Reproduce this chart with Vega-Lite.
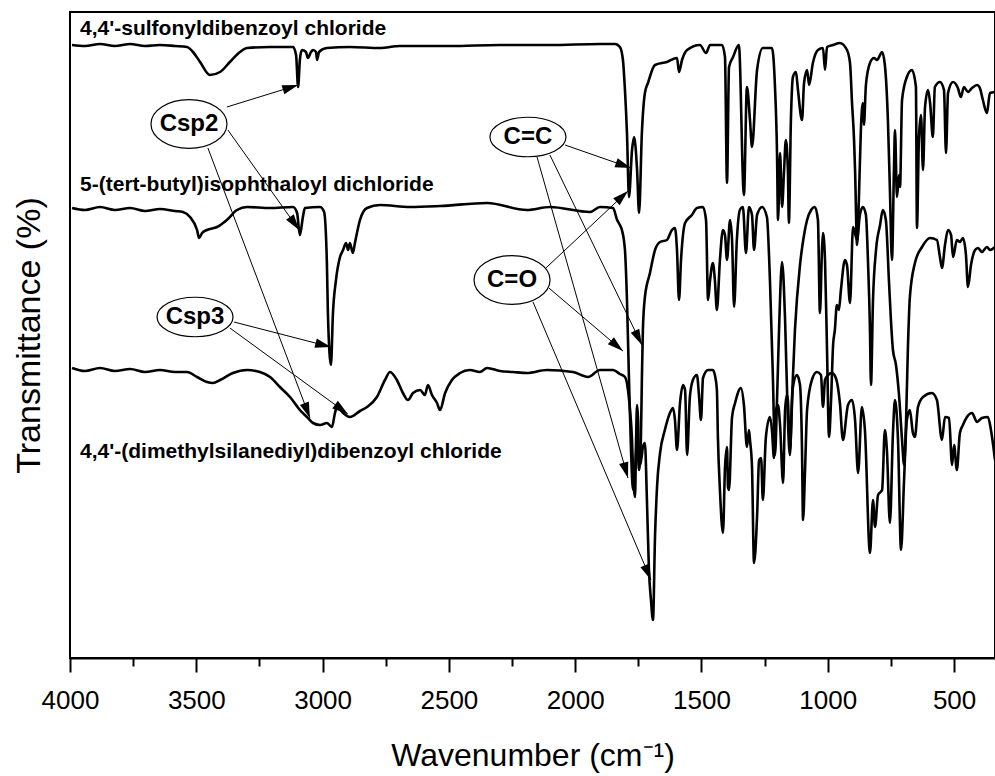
{
  "$schema": "https://vega.github.io/schema/vega-lite/v6.json",
  "width": 925,
  "height": 646,
  "autosize": {"type": "none"},
  "padding": {"left": 70, "top": 12, "right": 0, "bottom": 118},
  "background": "white",
  "config": {
    "view": {"stroke": "black", "strokeWidth": 2},
    "font": "Liberation Sans"
  },
  "datasets": {
    "spectra": [
      {"sample":"SDBC","wn":3992,"T":613},{"sample":"SDBC","wn":3941,"T":612},{"sample":"SDBC","wn":3881,"T":614},{"sample":"SDBC","wn":3822,"T":612},{"sample":"SDBC","wn":3762,"T":614},{"sample":"SDBC","wn":3703,"T":612},{"sample":"SDBC","wn":3644,"T":613},{"sample":"SDBC","wn":3584,"T":612},{"sample":"SDBC","wn":3537,"T":611},{"sample":"SDBC","wn":3513,"T":606},{"sample":"SDBC","wn":3485,"T":596},{"sample":"SDBC","wn":3446,"T":583},{"sample":"SDBC","wn":3406,"T":586},{"sample":"SDBC","wn":3367,"T":596},{"sample":"SDBC","wn":3327,"T":606},{"sample":"SDBC","wn":3299,"T":610},{"sample":"SDBC","wn":3208,"T":611},{"sample":"SDBC","wn":3117,"T":611},{"sample":"SDBC","wn":3105,"T":603},{"sample":"SDBC","wn":3097,"T":571},{"sample":"SDBC","wn":3090,"T":598},{"sample":"SDBC","wn":3082,"T":608},{"sample":"SDBC","wn":3066,"T":606},{"sample":"SDBC","wn":3058,"T":600},{"sample":"SDBC","wn":3046,"T":606},{"sample":"SDBC","wn":3038,"T":608},{"sample":"SDBC","wn":3026,"T":606},{"sample":"SDBC","wn":3022,"T":598},{"sample":"SDBC","wn":3014,"T":606},{"sample":"SDBC","wn":2983,"T":610},{"sample":"SDBC","wn":2892,"T":611},{"sample":"SDBC","wn":2773,"T":610},{"sample":"SDBC","wn":2694,"T":612},{"sample":"SDBC","wn":2496,"T":612},{"sample":"SDBC","wn":2298,"T":613},{"sample":"SDBC","wn":2100,"T":613},{"sample":"SDBC","wn":1902,"T":614},{"sample":"SDBC","wn":1842,"T":614},{"sample":"SDBC","wn":1823,"T":611},{"sample":"SDBC","wn":1811,"T":598},{"sample":"SDBC","wn":1803,"T":568},{"sample":"SDBC","wn":1795,"T":525},{"sample":"SDBC","wn":1787,"T":461},{"sample":"SDBC","wn":1775,"T":508},{"sample":"SDBC","wn":1767,"T":521},{"sample":"SDBC","wn":1755,"T":488},{"sample":"SDBC","wn":1747,"T":445},{"sample":"SDBC","wn":1736,"T":525},{"sample":"SDBC","wn":1724,"T":565},{"sample":"SDBC","wn":1712,"T":575},{"sample":"SDBC","wn":1684,"T":593},{"sample":"SDBC","wn":1637,"T":596},{"sample":"SDBC","wn":1597,"T":600},{"sample":"SDBC","wn":1589,"T":586},{"sample":"SDBC","wn":1577,"T":598},{"sample":"SDBC","wn":1557,"T":608},{"sample":"SDBC","wn":1506,"T":613},{"sample":"SDBC","wn":1482,"T":605},{"sample":"SDBC","wn":1466,"T":613},{"sample":"SDBC","wn":1419,"T":613},{"sample":"SDBC","wn":1407,"T":601},{"sample":"SDBC","wn":1399,"T":475},{"sample":"SDBC","wn":1391,"T":591},{"sample":"SDBC","wn":1375,"T":601},{"sample":"SDBC","wn":1352,"T":613},{"sample":"SDBC","wn":1332,"T":463},{"sample":"SDBC","wn":1320,"T":571},{"sample":"SDBC","wn":1308,"T":538},{"sample":"SDBC","wn":1300,"T":511},{"sample":"SDBC","wn":1280,"T":588},{"sample":"SDBC","wn":1257,"T":610},{"sample":"SDBC","wn":1221,"T":610},{"sample":"SDBC","wn":1209,"T":571},{"sample":"SDBC","wn":1201,"T":505},{"sample":"SDBC","wn":1197,"T":438},{"sample":"SDBC","wn":1189,"T":505},{"sample":"SDBC","wn":1181,"T":451},{"sample":"SDBC","wn":1173,"T":488},{"sample":"SDBC","wn":1166,"T":518},{"sample":"SDBC","wn":1158,"T":488},{"sample":"SDBC","wn":1154,"T":435},{"sample":"SDBC","wn":1146,"T":538},{"sample":"SDBC","wn":1138,"T":581},{"sample":"SDBC","wn":1126,"T":586},{"sample":"SDBC","wn":1118,"T":568},{"sample":"SDBC","wn":1102,"T":538},{"sample":"SDBC","wn":1094,"T":575},{"sample":"SDBC","wn":1082,"T":588},{"sample":"SDBC","wn":1074,"T":573},{"sample":"SDBC","wn":1059,"T":595},{"sample":"SDBC","wn":1039,"T":608},{"sample":"SDBC","wn":1019,"T":610},{"sample":"SDBC","wn":1011,"T":588},{"sample":"SDBC","wn":1003,"T":611},{"sample":"SDBC","wn":979,"T":613},{"sample":"SDBC","wn":952,"T":615},{"sample":"SDBC","wn":924,"T":608},{"sample":"SDBC","wn":912,"T":595},{"sample":"SDBC","wn":904,"T":555},{"sample":"SDBC","wn":896,"T":518},{"sample":"SDBC","wn":892,"T":488},{"sample":"SDBC","wn":884,"T":413},{"sample":"SDBC","wn":877,"T":458},{"sample":"SDBC","wn":869,"T":528},{"sample":"SDBC","wn":861,"T":555},{"sample":"SDBC","wn":857,"T":533},{"sample":"SDBC","wn":849,"T":573},{"sample":"SDBC","wn":833,"T":595},{"sample":"SDBC","wn":817,"T":600},{"sample":"SDBC","wn":805,"T":598},{"sample":"SDBC","wn":785,"T":606},{"sample":"SDBC","wn":774,"T":593},{"sample":"SDBC","wn":762,"T":538},{"sample":"SDBC","wn":754,"T":468},{"sample":"SDBC","wn":746,"T":398},{"sample":"SDBC","wn":738,"T":488},{"sample":"SDBC","wn":734,"T":528},{"sample":"SDBC","wn":726,"T":461},{"sample":"SDBC","wn":718,"T":483},{"sample":"SDBC","wn":714,"T":471},{"sample":"SDBC","wn":706,"T":558},{"sample":"SDBC","wn":687,"T":581},{"sample":"SDBC","wn":667,"T":588},{"sample":"SDBC","wn":651,"T":571},{"sample":"SDBC","wn":647,"T":430},{"sample":"SDBC","wn":639,"T":521},{"sample":"SDBC","wn":631,"T":543},{"sample":"SDBC","wn":623,"T":488},{"sample":"SDBC","wn":615,"T":551},{"sample":"SDBC","wn":603,"T":568},{"sample":"SDBC","wn":595,"T":555},{"sample":"SDBC","wn":584,"T":521},{"sample":"SDBC","wn":576,"T":571},{"sample":"SDBC","wn":556,"T":576},{"sample":"SDBC","wn":540,"T":568},{"sample":"SDBC","wn":532,"T":505},{"sample":"SDBC","wn":524,"T":565},{"sample":"SDBC","wn":504,"T":576},{"sample":"SDBC","wn":485,"T":570},{"sample":"SDBC","wn":473,"T":561},{"sample":"SDBC","wn":461,"T":571},{"sample":"SDBC","wn":445,"T":566},{"sample":"SDBC","wn":429,"T":570},{"sample":"SDBC","wn":409,"T":573},{"sample":"SDBC","wn":398,"T":570},{"sample":"SDBC","wn":386,"T":558},{"sample":"SDBC","wn":370,"T":545},{"sample":"SDBC","wn":358,"T":565},{"sample":"SDBC","wn":338,"T":566},

      {"sample":"TBIPC","wn":3992,"T":450},{"sample":"TBIPC","wn":3941,"T":448},{"sample":"TBIPC","wn":3881,"T":451},{"sample":"TBIPC","wn":3822,"T":448},{"sample":"TBIPC","wn":3762,"T":450},{"sample":"TBIPC","wn":3703,"T":447},{"sample":"TBIPC","wn":3644,"T":449},{"sample":"TBIPC","wn":3584,"T":447},{"sample":"TBIPC","wn":3553,"T":446},{"sample":"TBIPC","wn":3525,"T":441},{"sample":"TBIPC","wn":3497,"T":428},{"sample":"TBIPC","wn":3489,"T":420},{"sample":"TBIPC","wn":3477,"T":425},{"sample":"TBIPC","wn":3458,"T":428},{"sample":"TBIPC","wn":3418,"T":431},{"sample":"TBIPC","wn":3379,"T":438},{"sample":"TBIPC","wn":3339,"T":448},{"sample":"TBIPC","wn":3299,"T":451},{"sample":"TBIPC","wn":3208,"T":450},{"sample":"TBIPC","wn":3117,"T":451},{"sample":"TBIPC","wn":3101,"T":445},{"sample":"TBIPC","wn":3090,"T":423},{"sample":"TBIPC","wn":3078,"T":441},{"sample":"TBIPC","wn":3070,"T":450},{"sample":"TBIPC","wn":3010,"T":451},{"sample":"TBIPC","wn":2994,"T":446},{"sample":"TBIPC","wn":2983,"T":395},{"sample":"TBIPC","wn":2979,"T":345},{"sample":"TBIPC","wn":2967,"T":293},{"sample":"TBIPC","wn":2959,"T":345},{"sample":"TBIPC","wn":2947,"T":378},{"sample":"TBIPC","wn":2931,"T":401},{"sample":"TBIPC","wn":2919,"T":408},{"sample":"TBIPC","wn":2907,"T":415},{"sample":"TBIPC","wn":2899,"T":408},{"sample":"TBIPC","wn":2892,"T":415},{"sample":"TBIPC","wn":2880,"T":405},{"sample":"TBIPC","wn":2872,"T":415},{"sample":"TBIPC","wn":2852,"T":438},{"sample":"TBIPC","wn":2824,"T":450},{"sample":"TBIPC","wn":2773,"T":453},{"sample":"TBIPC","wn":2654,"T":451},{"sample":"TBIPC","wn":2535,"T":452},{"sample":"TBIPC","wn":2349,"T":455},{"sample":"TBIPC","wn":2191,"T":448},{"sample":"TBIPC","wn":2100,"T":451},{"sample":"TBIPC","wn":1941,"T":446},{"sample":"TBIPC","wn":1902,"T":451},{"sample":"TBIPC","wn":1850,"T":450},{"sample":"TBIPC","wn":1834,"T":438},{"sample":"TBIPC","wn":1823,"T":433},{"sample":"TBIPC","wn":1815,"T":428},{"sample":"TBIPC","wn":1803,"T":408},{"sample":"TBIPC","wn":1795,"T":358},{"sample":"TBIPC","wn":1787,"T":278},{"sample":"TBIPC","wn":1779,"T":208},{"sample":"TBIPC","wn":1771,"T":168},{"sample":"TBIPC","wn":1763,"T":188},{"sample":"TBIPC","wn":1755,"T":218},{"sample":"TBIPC","wn":1747,"T":188},{"sample":"TBIPC","wn":1740,"T":218},{"sample":"TBIPC","wn":1736,"T":278},{"sample":"TBIPC","wn":1732,"T":328},{"sample":"TBIPC","wn":1724,"T":361},{"sample":"TBIPC","wn":1704,"T":385},{"sample":"TBIPC","wn":1684,"T":408},{"sample":"TBIPC","wn":1664,"T":416},{"sample":"TBIPC","wn":1637,"T":418},{"sample":"TBIPC","wn":1617,"T":428},{"sample":"TBIPC","wn":1605,"T":430},{"sample":"TBIPC","wn":1597,"T":408},{"sample":"TBIPC","wn":1589,"T":358},{"sample":"TBIPC","wn":1581,"T":398},{"sample":"TBIPC","wn":1565,"T":435},{"sample":"TBIPC","wn":1538,"T":443},{"sample":"TBIPC","wn":1518,"T":450},{"sample":"TBIPC","wn":1494,"T":451},{"sample":"TBIPC","wn":1482,"T":438},{"sample":"TBIPC","wn":1474,"T":358},{"sample":"TBIPC","wn":1466,"T":378},{"sample":"TBIPC","wn":1455,"T":395},{"sample":"TBIPC","wn":1447,"T":378},{"sample":"TBIPC","wn":1439,"T":348},{"sample":"TBIPC","wn":1427,"T":398},{"sample":"TBIPC","wn":1415,"T":428},{"sample":"TBIPC","wn":1407,"T":423},{"sample":"TBIPC","wn":1399,"T":398},{"sample":"TBIPC","wn":1387,"T":438},{"sample":"TBIPC","wn":1379,"T":418},{"sample":"TBIPC","wn":1371,"T":351},{"sample":"TBIPC","wn":1360,"T":418},{"sample":"TBIPC","wn":1348,"T":448},{"sample":"TBIPC","wn":1336,"T":451},{"sample":"TBIPC","wn":1324,"T":405},{"sample":"TBIPC","wn":1312,"T":451},{"sample":"TBIPC","wn":1300,"T":443},{"sample":"TBIPC","wn":1292,"T":408},{"sample":"TBIPC","wn":1280,"T":443},{"sample":"TBIPC","wn":1260,"T":451},{"sample":"TBIPC","wn":1241,"T":441},{"sample":"TBIPC","wn":1229,"T":378},{"sample":"TBIPC","wn":1217,"T":278},{"sample":"TBIPC","wn":1209,"T":203},{"sample":"TBIPC","wn":1201,"T":258},{"sample":"TBIPC","wn":1193,"T":328},{"sample":"TBIPC","wn":1181,"T":396},{"sample":"TBIPC","wn":1169,"T":338},{"sample":"TBIPC","wn":1158,"T":238},{"sample":"TBIPC","wn":1150,"T":203},{"sample":"TBIPC","wn":1142,"T":258},{"sample":"TBIPC","wn":1130,"T":328},{"sample":"TBIPC","wn":1110,"T":393},{"sample":"TBIPC","wn":1094,"T":423},{"sample":"TBIPC","wn":1082,"T":438},{"sample":"TBIPC","wn":1066,"T":448},{"sample":"TBIPC","wn":1051,"T":451},{"sample":"TBIPC","wn":1039,"T":438},{"sample":"TBIPC","wn":1031,"T":345},{"sample":"TBIPC","wn":1023,"T":408},{"sample":"TBIPC","wn":1019,"T":425},{"sample":"TBIPC","wn":1011,"T":398},{"sample":"TBIPC","wn":1003,"T":308},{"sample":"TBIPC","wn":995,"T":221},{"sample":"TBIPC","wn":987,"T":258},{"sample":"TBIPC","wn":979,"T":313},{"sample":"TBIPC","wn":972,"T":328},{"sample":"TBIPC","wn":964,"T":353},{"sample":"TBIPC","wn":956,"T":348},{"sample":"TBIPC","wn":948,"T":368},{"sample":"TBIPC","wn":932,"T":398},{"sample":"TBIPC","wn":924,"T":393},{"sample":"TBIPC","wn":912,"T":355},{"sample":"TBIPC","wn":900,"T":431},{"sample":"TBIPC","wn":884,"T":418},{"sample":"TBIPC","wn":873,"T":443},{"sample":"TBIPC","wn":861,"T":451},{"sample":"TBIPC","wn":849,"T":443},{"sample":"TBIPC","wn":841,"T":398},{"sample":"TBIPC","wn":833,"T":328},{"sample":"TBIPC","wn":829,"T":273},{"sample":"TBIPC","wn":821,"T":358},{"sample":"TBIPC","wn":809,"T":408},{"sample":"TBIPC","wn":793,"T":433},{"sample":"TBIPC","wn":782,"T":448},{"sample":"TBIPC","wn":770,"T":438},{"sample":"TBIPC","wn":758,"T":378},{"sample":"TBIPC","wn":750,"T":338},{"sample":"TBIPC","wn":742,"T":308},{"sample":"TBIPC","wn":730,"T":293},{"sample":"TBIPC","wn":718,"T":263},{"sample":"TBIPC","wn":706,"T":218},{"sample":"TBIPC","wn":698,"T":193},{"sample":"TBIPC","wn":690,"T":238},{"sample":"TBIPC","wn":683,"T":308},{"sample":"TBIPC","wn":675,"T":361},{"sample":"TBIPC","wn":655,"T":395},{"sample":"TBIPC","wn":627,"T":411},{"sample":"TBIPC","wn":595,"T":420},{"sample":"TBIPC","wn":568,"T":418},{"sample":"TBIPC","wn":556,"T":401},{"sample":"TBIPC","wn":548,"T":390},{"sample":"TBIPC","wn":536,"T":413},{"sample":"TBIPC","wn":524,"T":428},{"sample":"TBIPC","wn":512,"T":423},{"sample":"TBIPC","wn":504,"T":401},{"sample":"TBIPC","wn":489,"T":418},{"sample":"TBIPC","wn":477,"T":416},{"sample":"TBIPC","wn":465,"T":420},{"sample":"TBIPC","wn":453,"T":403},{"sample":"TBIPC","wn":445,"T":371},{"sample":"TBIPC","wn":433,"T":393},{"sample":"TBIPC","wn":417,"T":408},{"sample":"TBIPC","wn":405,"T":410},{"sample":"TBIPC","wn":390,"T":406},{"sample":"TBIPC","wn":370,"T":411},{"sample":"TBIPC","wn":358,"T":408},{"sample":"TBIPC","wn":338,"T":411},

      {"sample":"DMSDBC","wn":3992,"T":290},{"sample":"DMSDBC","wn":3941,"T":287},{"sample":"DMSDBC","wn":3881,"T":290},{"sample":"DMSDBC","wn":3822,"T":287},{"sample":"DMSDBC","wn":3762,"T":289},{"sample":"DMSDBC","wn":3703,"T":286},{"sample":"DMSDBC","wn":3644,"T":288},{"sample":"DMSDBC","wn":3584,"T":286},{"sample":"DMSDBC","wn":3537,"T":286},{"sample":"DMSDBC","wn":3497,"T":281},{"sample":"DMSDBC","wn":3458,"T":276},{"sample":"DMSDBC","wn":3434,"T":275},{"sample":"DMSDBC","wn":3406,"T":278},{"sample":"DMSDBC","wn":3355,"T":285},{"sample":"DMSDBC","wn":3299,"T":288},{"sample":"DMSDBC","wn":3248,"T":286},{"sample":"DMSDBC","wn":3208,"T":281},{"sample":"DMSDBC","wn":3169,"T":271},{"sample":"DMSDBC","wn":3129,"T":261},{"sample":"DMSDBC","wn":3090,"T":248},{"sample":"DMSDBC","wn":3062,"T":241},{"sample":"DMSDBC","wn":3038,"T":235},{"sample":"DMSDBC","wn":3010,"T":233},{"sample":"DMSDBC","wn":2983,"T":235},{"sample":"DMSDBC","wn":2963,"T":231},{"sample":"DMSDBC","wn":2951,"T":245},{"sample":"DMSDBC","wn":2943,"T":251},{"sample":"DMSDBC","wn":2919,"T":245},{"sample":"DMSDBC","wn":2892,"T":241},{"sample":"DMSDBC","wn":2852,"T":247},{"sample":"DMSDBC","wn":2824,"T":251},{"sample":"DMSDBC","wn":2785,"T":261},{"sample":"DMSDBC","wn":2753,"T":278},{"sample":"DMSDBC","wn":2733,"T":286},{"sample":"DMSDBC","wn":2706,"T":278},{"sample":"DMSDBC","wn":2682,"T":265},{"sample":"DMSDBC","wn":2662,"T":258},{"sample":"DMSDBC","wn":2642,"T":265},{"sample":"DMSDBC","wn":2614,"T":268},{"sample":"DMSDBC","wn":2595,"T":263},{"sample":"DMSDBC","wn":2583,"T":273},{"sample":"DMSDBC","wn":2567,"T":263},{"sample":"DMSDBC","wn":2547,"T":255},{"sample":"DMSDBC","wn":2535,"T":248},{"sample":"DMSDBC","wn":2515,"T":265},{"sample":"DMSDBC","wn":2488,"T":278},{"sample":"DMSDBC","wn":2456,"T":285},{"sample":"DMSDBC","wn":2417,"T":288},{"sample":"DMSDBC","wn":2377,"T":286},{"sample":"DMSDBC","wn":2349,"T":290},{"sample":"DMSDBC","wn":2298,"T":287},{"sample":"DMSDBC","wn":2246,"T":286},{"sample":"DMSDBC","wn":2191,"T":285},{"sample":"DMSDBC","wn":2112,"T":288},{"sample":"DMSDBC","wn":2009,"T":286},{"sample":"DMSDBC","wn":1949,"T":281},{"sample":"DMSDBC","wn":1902,"T":288},{"sample":"DMSDBC","wn":1850,"T":288},{"sample":"DMSDBC","wn":1823,"T":284},{"sample":"DMSDBC","wn":1803,"T":281},{"sample":"DMSDBC","wn":1791,"T":268},{"sample":"DMSDBC","wn":1783,"T":248},{"sample":"DMSDBC","wn":1775,"T":218},{"sample":"DMSDBC","wn":1771,"T":188},{"sample":"DMSDBC","wn":1763,"T":161},{"sample":"DMSDBC","wn":1759,"T":218},{"sample":"DMSDBC","wn":1755,"T":253},{"sample":"DMSDBC","wn":1751,"T":238},{"sample":"DMSDBC","wn":1747,"T":198},{"sample":"DMSDBC","wn":1743,"T":193},{"sample":"DMSDBC","wn":1736,"T":203},{"sample":"DMSDBC","wn":1732,"T":211},{"sample":"DMSDBC","wn":1724,"T":215},{"sample":"DMSDBC","wn":1716,"T":158},{"sample":"DMSDBC","wn":1708,"T":88},{"sample":"DMSDBC","wn":1700,"T":58},{"sample":"DMSDBC","wn":1692,"T":38},{"sample":"DMSDBC","wn":1684,"T":121},{"sample":"DMSDBC","wn":1676,"T":171},{"sample":"DMSDBC","wn":1664,"T":205},{"sample":"DMSDBC","wn":1645,"T":228},{"sample":"DMSDBC","wn":1625,"T":245},{"sample":"DMSDBC","wn":1613,"T":250},{"sample":"DMSDBC","wn":1605,"T":238},{"sample":"DMSDBC","wn":1597,"T":208},{"sample":"DMSDBC","wn":1585,"T":255},{"sample":"DMSDBC","wn":1573,"T":273},{"sample":"DMSDBC","wn":1565,"T":268},{"sample":"DMSDBC","wn":1557,"T":203},{"sample":"DMSDBC","wn":1546,"T":261},{"sample":"DMSDBC","wn":1534,"T":278},{"sample":"DMSDBC","wn":1518,"T":283},{"sample":"DMSDBC","wn":1510,"T":263},{"sample":"DMSDBC","wn":1502,"T":238},{"sample":"DMSDBC","wn":1494,"T":280},{"sample":"DMSDBC","wn":1474,"T":288},{"sample":"DMSDBC","wn":1455,"T":288},{"sample":"DMSDBC","wn":1447,"T":283},{"sample":"DMSDBC","wn":1439,"T":268},{"sample":"DMSDBC","wn":1435,"T":221},{"sample":"DMSDBC","wn":1427,"T":168},{"sample":"DMSDBC","wn":1415,"T":125},{"sample":"DMSDBC","wn":1407,"T":190},{"sample":"DMSDBC","wn":1399,"T":211},{"sample":"DMSDBC","wn":1395,"T":171},{"sample":"DMSDBC","wn":1391,"T":168},{"sample":"DMSDBC","wn":1379,"T":241},{"sample":"DMSDBC","wn":1367,"T":255},{"sample":"DMSDBC","wn":1344,"T":270},{"sample":"DMSDBC","wn":1332,"T":253},{"sample":"DMSDBC","wn":1320,"T":211},{"sample":"DMSDBC","wn":1312,"T":228},{"sample":"DMSDBC","wn":1308,"T":218},{"sample":"DMSDBC","wn":1300,"T":191},{"sample":"DMSDBC","wn":1292,"T":95},{"sample":"DMSDBC","wn":1280,"T":141},{"sample":"DMSDBC","wn":1272,"T":198},{"sample":"DMSDBC","wn":1264,"T":200},{"sample":"DMSDBC","wn":1257,"T":158},{"sample":"DMSDBC","wn":1245,"T":221},{"sample":"DMSDBC","wn":1229,"T":241},{"sample":"DMSDBC","wn":1221,"T":228},{"sample":"DMSDBC","wn":1213,"T":200},{"sample":"DMSDBC","wn":1205,"T":248},{"sample":"DMSDBC","wn":1197,"T":253},{"sample":"DMSDBC","wn":1189,"T":233},{"sample":"DMSDBC","wn":1177,"T":175},{"sample":"DMSDBC","wn":1169,"T":248},{"sample":"DMSDBC","wn":1162,"T":263},{"sample":"DMSDBC","wn":1158,"T":258},{"sample":"DMSDBC","wn":1150,"T":208},{"sample":"DMSDBC","wn":1138,"T":271},{"sample":"DMSDBC","wn":1122,"T":283},{"sample":"DMSDBC","wn":1110,"T":273},{"sample":"DMSDBC","wn":1102,"T":208},{"sample":"DMSDBC","wn":1098,"T":138},{"sample":"DMSDBC","wn":1090,"T":188},{"sample":"DMSDBC","wn":1082,"T":248},{"sample":"DMSDBC","wn":1063,"T":278},{"sample":"DMSDBC","wn":1043,"T":286},{"sample":"DMSDBC","wn":1027,"T":283},{"sample":"DMSDBC","wn":1019,"T":251},{"sample":"DMSDBC","wn":1011,"T":278},{"sample":"DMSDBC","wn":999,"T":283},{"sample":"DMSDBC","wn":983,"T":285},{"sample":"DMSDBC","wn":968,"T":280},{"sample":"DMSDBC","wn":952,"T":255},{"sample":"DMSDBC","wn":940,"T":218},{"sample":"DMSDBC","wn":920,"T":253},{"sample":"DMSDBC","wn":904,"T":258},{"sample":"DMSDBC","wn":892,"T":238},{"sample":"DMSDBC","wn":880,"T":185},{"sample":"DMSDBC","wn":865,"T":251},{"sample":"DMSDBC","wn":853,"T":228},{"sample":"DMSDBC","wn":833,"T":105},{"sample":"DMSDBC","wn":821,"T":158},{"sample":"DMSDBC","wn":813,"T":131},{"sample":"DMSDBC","wn":801,"T":163},{"sample":"DMSDBC","wn":785,"T":168},{"sample":"DMSDBC","wn":774,"T":228},{"sample":"DMSDBC","wn":766,"T":208},{"sample":"DMSDBC","wn":754,"T":135},{"sample":"DMSDBC","wn":742,"T":225},{"sample":"DMSDBC","wn":734,"T":258},{"sample":"DMSDBC","wn":722,"T":218},{"sample":"DMSDBC","wn":710,"T":108},{"sample":"DMSDBC","wn":698,"T":178},{"sample":"DMSDBC","wn":687,"T":238},{"sample":"DMSDBC","wn":675,"T":248},{"sample":"DMSDBC","wn":663,"T":225},{"sample":"DMSDBC","wn":655,"T":221},{"sample":"DMSDBC","wn":643,"T":251},{"sample":"DMSDBC","wn":623,"T":261},{"sample":"DMSDBC","wn":588,"T":265},{"sample":"DMSDBC","wn":568,"T":258},{"sample":"DMSDBC","wn":548,"T":218},{"sample":"DMSDBC","wn":536,"T":241},{"sample":"DMSDBC","wn":520,"T":240},{"sample":"DMSDBC","wn":508,"T":193},{"sample":"DMSDBC","wn":500,"T":213},{"sample":"DMSDBC","wn":489,"T":188},{"sample":"DMSDBC","wn":477,"T":225},{"sample":"DMSDBC","wn":465,"T":233},{"sample":"DMSDBC","wn":449,"T":241},{"sample":"DMSDBC","wn":429,"T":245},{"sample":"DMSDBC","wn":409,"T":236},{"sample":"DMSDBC","wn":390,"T":240},{"sample":"DMSDBC","wn":366,"T":241},{"sample":"DMSDBC","wn":354,"T":228},{"sample":"DMSDBC","wn":338,"T":198}
    ],
    "names": [
      {"text": "4,4'-sulfonyldibenzoyl chloride", "wn": 3960, "T": 623},
      {"text": "5-(tert-butyl)isophthaloyl dichloride", "wn": 3960, "T": 467},
      {"text": "4,4'-(dimethylsilanediyl)dibenzoyl chloride", "wn": 3960, "T": 200}
    ],
    "callouts": [
      {"text": "Csp2", "wn": 3529, "T": 534},
      {"text": "Csp3", "wn": 3505, "T": 341},
      {"text": "C=C", "wn": 2187, "T": 521},
      {"text": "C=O", "wn": 2250, "T": 378}
    ],
    "arrows": [
      {"from": "Csp2", "wn": 3379, "T": 551, "wn2": 3097, "T2": 573},
      {"from": "Csp2", "wn": 3375, "T": 528, "wn2": 3093, "T2": 428},
      {"from": "Csp2", "wn": 3454, "T": 510, "wn2": 3050, "T2": 240},
      {"from": "Csp3", "wn": 3351, "T": 336, "wn2": 2967, "T2": 311},
      {"from": "Csp3", "wn": 3367, "T": 330, "wn2": 2900, "T2": 244},
      {"from": "C=C", "wn": 2040, "T": 513, "wn2": 1779, "T2": 490},
      {"from": "C=C", "wn": 2100, "T": 503, "wn2": 1736, "T2": 313},
      {"from": "C=C", "wn": 2151, "T": 501, "wn2": 1791, "T2": 180},
      {"from": "C=O", "wn": 2116, "T": 390, "wn2": 1791, "T2": 467},
      {"from": "C=O", "wn": 2104, "T": 370, "wn2": 1811, "T2": 307},
      {"from": "C=O", "wn": 2167, "T": 356, "wn2": 1700, "T2": 78}
    ]
  },
  "layer": [
    {
      "data": {"name": "spectra"},
      "mark": {"type": "line", "color": "black", "strokeWidth": 2.6, "strokeJoin": "round", "interpolate": "monotone", "clip": true},
      "encoding": {
        "x": {
          "field": "wn", "type": "quantitative",
          "scale": {"domain": [4000, 338], "nice": false, "zero": false},
          "axis": {
            "title": "Wavenumber (cm⁻¹)",
            "values": [4000, 3750, 3500, 3250, 3000, 2750, 2500, 2250, 2000, 1750, 1500, 1250, 1000, 750, 500],
            "format": "d",
            "labelExpr": "datum.value % 500 === 0 ? datum.label : ''",
            "tickSize": {"condition": {"test": "datum.value % 500 === 0", "value": 14}, "value": 8},
            "tickWidth": 2, "tickColor": "black",
            "domainColor": "black", "domainWidth": 2,
            "grid": false,
            "labelFont": "Liberation Sans", "labelFontSize": 26, "labelColor": "black",
            "labelPadding": 15, "labelFlush": false, "labelOverlap": false,
            "titleFont": "Liberation Sans", "titleFontSize": 32, "titleFontWeight": "normal",
            "titleColor": "black", "titlePadding": 27
          }
        },
        "y": {
          "field": "T", "type": "quantitative",
          "scale": {"domain": [0, 646], "nice": false, "zero": false},
          "axis": {
            "title": "Transmittance (%)",
            "labels": false, "ticks": false, "domain": false, "grid": false,
            "titleFont": "Liberation Sans", "titleFontSize": 34, "titleFontWeight": "normal",
            "titleColor": "black", "titlePadding": 24
          }
        },
        "detail": {"field": "sample", "type": "nominal"}
      }
    },
    {
      "data": {"name": "arrows"},
      "mark": {"type": "rule", "color": "black", "strokeWidth": 1},
      "encoding": {
        "x": {"field": "wn", "type": "quantitative"},
        "y": {"field": "T", "type": "quantitative"},
        "x2": {"field": "wn2"},
        "y2": {"field": "T2"}
      }
    },
    {
      "data": {"name": "arrows"},
      "transform": [
        {"calculate": "atan2((datum.wn - datum.wn2) / 3.9589, datum.T2 - datum.T) * 180 / PI", "as": "heading"}
      ],
      "mark": {"type": "point", "shape": "M0,0L0.3,1L-0.3,1Z", "filled": true, "color": "black", "size": 1000, "opacity": 1},
      "encoding": {
        "x": {"field": "wn2", "type": "quantitative"},
        "y": {"field": "T2", "type": "quantitative"},
        "angle": {"field": "heading", "type": "quantitative", "scale": null}
      }
    },
    {
      "data": {"name": "callouts"},
      "transform": [{"filter": "datum.text === 'Csp2' || datum.text === 'C=O'"}],
      "mark": {"type": "point", "shape": "M-1,0C-1,-0.3535,-0.5523,-0.64,0,-0.64C0.5523,-0.64,1,-0.3535,1,0C1,0.3535,0.5523,0.64,0,0.64C-0.5523,0.64,-1,0.3535,-1,0Z", "filled": false, "color": "black", "strokeWidth": 1.2, "size": 5776, "opacity": 1},
      "encoding": {
        "x": {"field": "wn", "type": "quantitative"},
        "y": {"field": "T", "type": "quantitative"}
      }
    },
    {
      "data": {"name": "callouts"},
      "transform": [{"filter": "datum.text === 'Csp3' || datum.text === 'C=C'"}],
      "mark": {"type": "point", "shape": "M-1,0C-1,-0.2872,-0.5523,-0.52,0,-0.52C0.5523,-0.52,1,-0.2872,1,0C1,0.2872,0.5523,0.52,0,0.52C-0.5523,0.52,-1,0.2872,-1,0Z", "filled": false, "color": "black", "strokeWidth": 1.2, "size": 5776, "opacity": 1},
      "encoding": {
        "x": {"field": "wn", "type": "quantitative"},
        "y": {"field": "T", "type": "quantitative"}
      }
    },
    {
      "data": {"name": "callouts"},
      "mark": {"type": "text", "font": "Liberation Sans", "fontWeight": "bold", "fontSize": 24, "align": "center", "baseline": "middle", "color": "black"},
      "encoding": {
        "x": {"field": "wn", "type": "quantitative"},
        "y": {"field": "T", "type": "quantitative"},
        "text": {"field": "text"}
      }
    },
    {
      "data": {"name": "names"},
      "mark": {"type": "text", "font": "Liberation Sans", "fontWeight": "bold", "fontSize": 21, "align": "left", "baseline": "alphabetic", "color": "black"},
      "encoding": {
        "x": {"field": "wn", "type": "quantitative"},
        "y": {"field": "T", "type": "quantitative"},
        "text": {"field": "text"}
      }
    }
  ]
}
